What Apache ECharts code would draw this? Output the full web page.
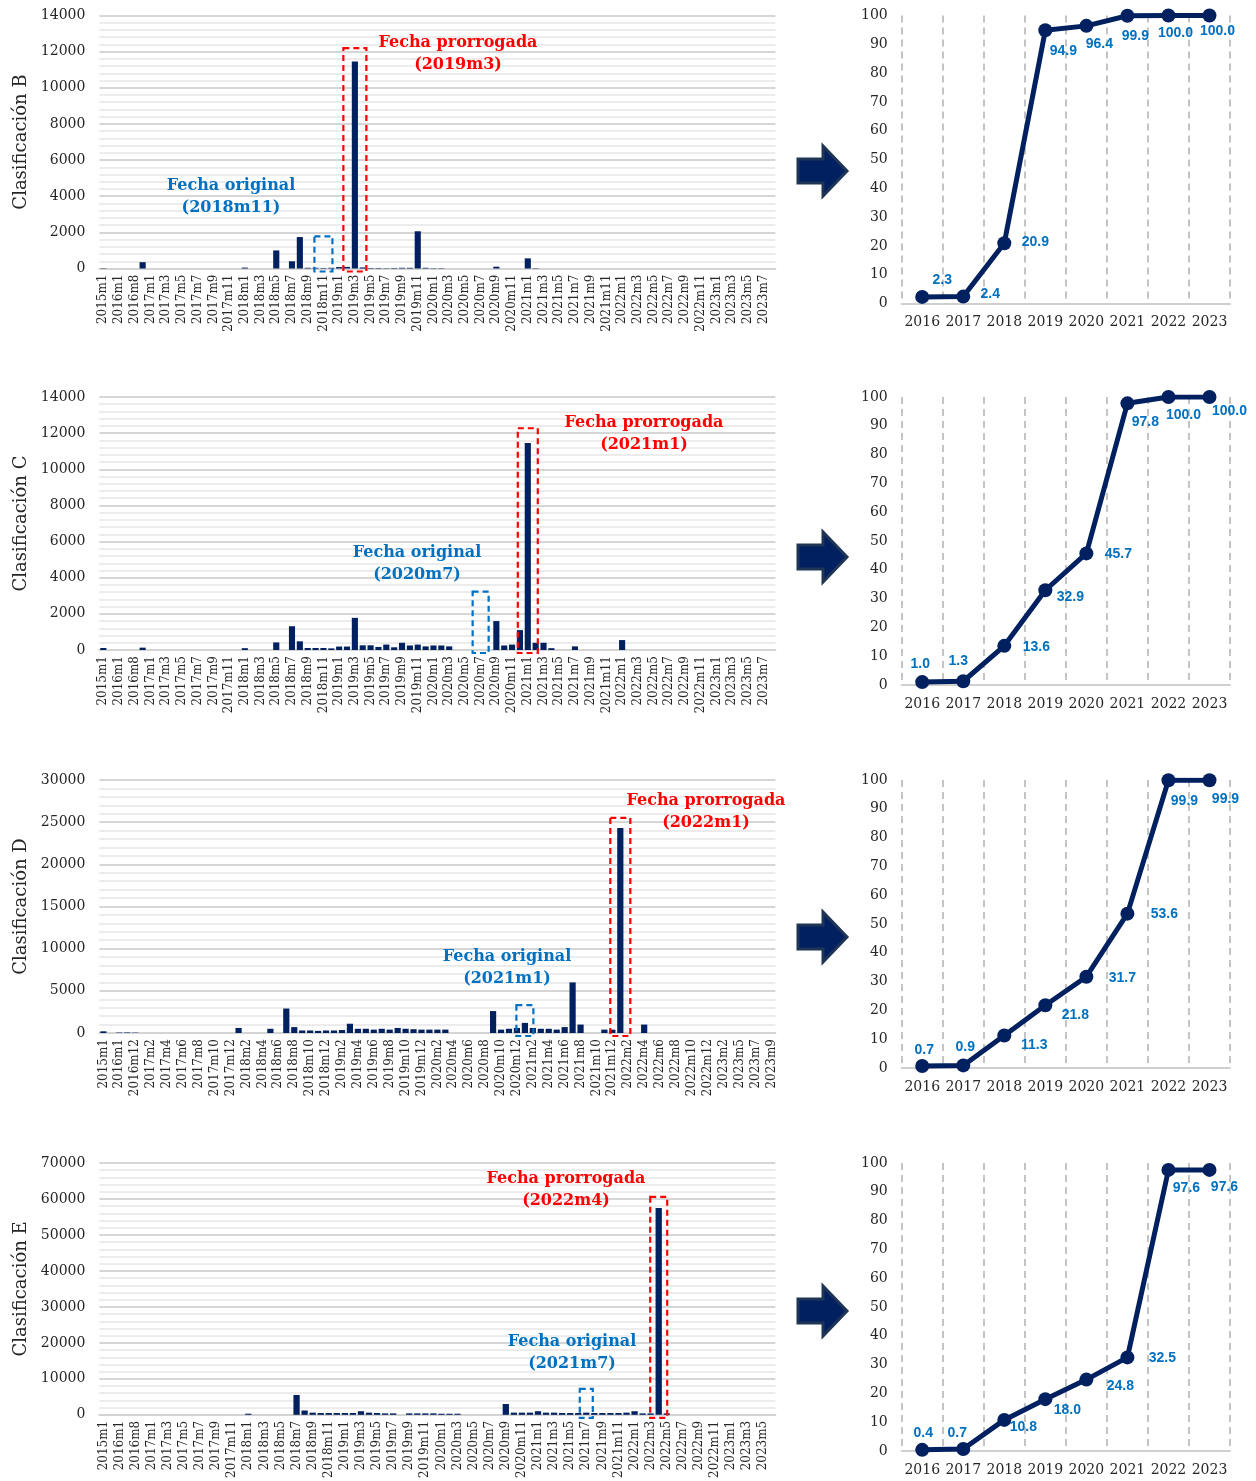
<!DOCTYPE html>
<html>
<head>
<meta charset="utf-8">
<script src="https://cdn.jsdelivr.net/npm/echarts@6/dist/echarts.min.js"></script>
<style>
  html, body { margin: 0; padding: 0; background: #ffffff; }
  #chart { width: 1256px; height: 1481px; }
</style>
</head>
<body>
<div id="chart"></div>
<script>
// ---- Monthly categories for each classification ----
const catsB = [
  '2015m1','2015m7','2016m1','2016m5','2016m8','2016m12',
  '2017m1','2017m2','2017m3','2017m4','2017m5','2017m6','2017m7','2017m8','2017m9','2017m10','2017m11','2017m12',
  '2018m1','2018m2','2018m3','2018m4','2018m5','2018m6','2018m7','2018m8','2018m9','2018m10','2018m11','2018m12',
  '2019m1','2019m2','2019m3','2019m4','2019m5','2019m6','2019m7','2019m8','2019m9','2019m10','2019m11','2019m12',
  '2020m1','2020m2','2020m3','2020m4','2020m5','2020m6','2020m7','2020m8','2020m9','2020m10','2020m11','2020m12',
  '2021m1','2021m2','2021m3','2021m4','2021m5','2021m6','2021m7','2021m8','2021m9','2021m10','2021m11','2021m12',
  '2022m1','2022m2','2022m3','2022m4','2022m5','2022m6','2022m7','2022m8','2022m9','2022m10','2022m11','2022m12',
  '2023m1','2023m2','2023m3','2023m4','2023m5','2023m6','2023m7','2023m8'
];
const catsC = [
  '2015m1','2015m7','2016m1','2016m5','2016m8','2016m12',
  '2017m1','2017m2','2017m3','2017m4','2017m5','2017m6','2017m7','2017m8','2017m9','2017m10','2017m11','2017m12',
  '2018m1','2018m2','2018m3','2018m4','2018m5','2018m6','2018m7','2018m8','2018m9','2018m10','2018m11','2018m12',
  '2019m1','2019m2','2019m3','2019m4','2019m5','2019m6','2019m7','2019m8','2019m9','2019m10','2019m11','2019m12',
  '2020m1','2020m2','2020m3','2020m4','2020m5','2020m6','2020m7','2020m8','2020m9','2020m10','2020m11','2020m12',
  '2021m1','2021m2','2021m3','2021m4','2021m5','2021m6','2021m7','2021m8','2021m9','2021m10','2021m11','2021m12',
  '2022m1','2022m2','2022m3','2022m4','2022m5','2022m6','2022m7','2022m8','2022m9','2022m10','2022m11','2022m12',
  '2023m1','2023m2','2023m3','2023m4','2023m5','2023m6','2023m7','2023m8'
];
const catsD = [
  '2015m1','2015m7','2016m1','2016m8','2016m12',
  '2017m1','2017m2','2017m3','2017m4','2017m5','2017m6','2017m7','2017m8','2017m9','2017m10','2017m11','2017m12',
  '2018m1','2018m2','2018m3','2018m4','2018m5','2018m6','2018m7','2018m8','2018m9','2018m10','2018m11','2018m12',
  '2019m1','2019m2','2019m3','2019m4','2019m5','2019m6','2019m7','2019m8','2019m9','2019m10','2019m11','2019m12',
  '2020m1','2020m2','2020m3','2020m4','2020m5','2020m6','2020m7','2020m8','2020m9','2020m10','2020m11','2020m12',
  '2021m1','2021m2','2021m3','2021m4','2021m5','2021m6','2021m7','2021m8','2021m9','2021m10','2021m11','2021m12',
  '2022m1','2022m2','2022m3','2022m4','2022m5','2022m6','2022m7','2022m8','2022m9','2022m10','2022m11','2022m12',
  '2023m1','2023m2','2023m4','2023m5','2023m6','2023m7','2023m8','2023m9'
];
const catsE = [
  '2015m1','2015m7','2016m1','2016m5','2016m8','2016m12',
  '2017m1','2017m2','2017m3','2017m4','2017m5','2017m6','2017m7','2017m8','2017m9','2017m10','2017m11','2017m12',
  '2018m1','2018m2','2018m3','2018m4','2018m5','2018m6','2018m7','2018m8','2018m9','2018m10','2018m11','2018m12',
  '2019m1','2019m2','2019m3','2019m4','2019m5','2019m6','2019m7','2019m8','2019m9','2019m10','2019m11','2019m12',
  '2020m1','2020m2','2020m3','2020m4','2020m5','2020m6','2020m7','2020m8','2020m9','2020m10','2020m11','2020m12',
  '2021m1','2021m2','2021m3','2021m4','2021m5','2021m6','2021m7','2021m8','2021m9','2021m10','2021m11','2021m12',
  '2022m1','2022m2','2022m3','2022m4','2022m5','2022m6','2022m7','2022m8','2022m9','2022m10','2022m11','2022m12',
  '2023m1','2023m2','2023m3','2023m4','2023m5','2023m6'
];

// ---- Monthly counts (one row per year) ----
const countsB = [
  20, 0, 0, 0, 0, 350,
  0, 0, 0, 0, 0, 0, 0, 0, 0, 0, 0, 0,
  50, 0, 0, 0, 1000, 0, 400, 1740, 40, 40, 30, 40,
  80, 90, 11450, 60, 30, 30, 20, 30, 40, 40, 2060, 40,
  20, 20, 0, 0, 0, 0, 0, 0, 100, 0, 0, 0,
  560, 20, 0, 0, 0, 0, 0, 0, 0, 0, 0, 0,
  0, 0, 0, 0, 0, 0, 0, 0, 0, 0, 0, 0,
  0, 0, 0, 0, 0, 0, 0, 0
];
const countsC = [
  110, 0, 0, 0, 0, 130,
  0, 0, 0, 0, 0, 0, 0, 0, 0, 0, 0, 0,
  100, 0, 0, 0, 420, 0, 1315, 480, 110, 110, 110, 90,
  190, 190, 1780, 260, 260, 170, 300, 150, 400, 250, 300, 200,
  250, 250, 200, 0, 0, 0, 0, 0, 1600, 250, 300, 1100,
  11450, 400, 400, 100, 0, 0, 200, 0, 0, 0, 0, 0,
  550, 0, 0, 0, 0, 0, 0, 0, 0, 0, 0, 0,
  0, 0, 0, 0, 0, 0, 0, 0
];
const countsD = [
  200, 0, 50, 60, 40,
  0, 0, 0, 0, 0, 0, 0, 0, 0, 0, 0, 0,
  600, 0, 0, 0, 500, 0, 2900, 700, 300, 300, 250, 300,
  300, 350, 1100, 500, 500, 400, 500, 400, 600, 500, 450, 400,
  400, 400, 400, 0, 0, 0, 0, 0, 2600, 400, 500, 600,
  1200, 600, 500, 500, 400, 700, 6000, 1000, 0, 0, 400, 400,
  24300, 0, 0, 1000, 0, 0, 0, 0, 0, 0, 0, 0,
  0, 0, 0, 0, 0, 0, 0, 0
];
const countsE = [
  0, 0, 0, 0, 0, 0,
  0, 0, 0, 0, 0, 0, 0, 0, 0, 0, 0, 0,
  300, 0, 0, 0, 0, 0, 5500, 1200, 600, 500, 500, 500,
  500, 500, 1000, 600, 500, 400, 400, 0, 400, 400, 400, 400,
  300, 300, 300, 0, 0, 0, 0, 0, 3000, 600, 600, 600,
  1000, 600, 600, 500, 500, 500, 600, 500, 500, 500, 500, 600,
  1000, 400, 400, 57500, 400, 0, 0, 0, 0, 0, 0, 0,
  0, 0, 0, 0, 0, 0
];

// ---- Yearly cumulative share (%) ----
const years = ['2016','2017','2018','2019','2020','2021','2022','2023'];
const shareB = [2.3, 2.4, 20.9, 94.9, 96.4, 99.9, 100.0, 100.0];
const shareC = [1.0, 1.3, 13.6, 32.9, 45.7, 97.8, 100.0, 100.0];
const shareD = [0.7, 0.9, 11.3, 21.8, 31.7, 53.6, 99.9, 99.9];
const shareE = [0.4, 0.7, 10.8, 18.0, 24.8, 32.5, 97.6, 97.6];

// ---- Value-axis tick settings ----
const axisMax = [14000, 14000, 30000, 70000];
const axisStep = [2000, 2000, 5000, 10000];

// ---- Deadline markers: original and extended month ----
const originalMonth = ['2018m11', '2020m7', '2021m1', '2021m7'];
const extendedMonth = ['2019m3', '2021m1', '2022m1', '2022m4'];

// ---- Layout / styling ----
const NAVY = '#002060';
const BLUE = '#0070C0';
const RED = '#FF0000';
const SERIF = '"DejaVu Serif", "Liberation Serif", serif';
const SANS = '"Liberation Sans", "Open Sans", sans-serif';
const rowTop = [15.5, 397, 780, 1163];
const barGrid = { left: 99.4, width: 676, height: 253 };
const lineGrid = { left: 901.7, width: 328.3, height: 288 };

// label placement offsets (px) for the yearly share labels
const labelOffsets = [
  [[20,-17],[27,-2],[31,-1],[18,21],[13,18],[8,20],[7,18],[8,16]],
  [[-2,-18],[-5,-20],[32,1],[25,7],[32,1],[18,19],[15,18],[20,14]],
  [[2,-16],[2,-18],[30,10],[30,10],[36,1],[37,1],[16,21],[16,19]],
  [[1,-17],[-6,-16],[19,7],[22,11],[34,7],[35,1],[18,18],[15,17]]
];
// top of the dashed boxes, in axis units
const extBoxTop = [12200, 12270, 25500, 60600];
const origBoxTop = [1780, 3230, 3300, 7200];
const extBoxHalf = [11.5, 10, 10, 8.5];
const origBoxHalf = [9, 8, 8.5, 6.5];
// caption anchors [x, y]
const extTextPos = [[458, 43], [644, 423], [706, 801], [566, 1179]];
const origTextPos = [[231, 186], [417, 553], [507, 957], [572, 1342]];

const names = ['Clasificación B', 'Clasificación C', 'Clasificación D', 'Clasificación E'];
const cats = [catsB, catsC, catsD, catsE];
const counts = [countsB, countsC, countsD, countsE];
const shares = [shareB, shareC, shareD, shareE];

const grids = [], xAxes = [], yAxes = [], series = [];

for (let i = 0; i < 4; i++) {
  grids.push({ left: barGrid.left, top: rowTop[i], width: barGrid.width, height: barGrid.height });
  xAxes.push({
    type: 'category', gridIndex: i, data: cats[i],
    axisTick: { show: false },
    axisLine: { lineStyle: { color: '#d4d4d4', width: 2 } },
    axisLabel: { rotate: 90, interval: 1, fontFamily: SERIF, fontSize: 12, color: '#262626', margin: 6 }
  });
  yAxes.push({
    type: 'value', gridIndex: i, min: 0, max: axisMax[i], interval: axisStep[i],
    name: names[i], nameLocation: 'middle', nameGap: 68, nameRotate: 90,
    nameTextStyle: { fontFamily: SERIF, fontSize: 18, color: '#262626' },
    axisLine: { show: false }, axisTick: { show: false },
    axisLabel: { fontFamily: SERIF, fontSize: 14, color: '#262626', margin: 14, formatter: v => String(v) },
    splitLine: { lineStyle: { color: '#d6d6d6', width: 2 } },
    minorTick: { show: false, splitNumber: 5 },
    minorSplitLine: { show: true, lineStyle: { color: '#ececec', width: 2 } }
  });
  series.push({
    type: 'bar', xAxisIndex: i, yAxisIndex: i, data: counts[i],
    barCategoryGap: '22%', itemStyle: { color: NAVY }, silent: true
  });
}

for (let i = 0; i < 4; i++) {
  const gi = 4 + i;
  grids.push({ left: lineGrid.left, top: rowTop[i], width: lineGrid.width, height: lineGrid.height });
  xAxes.push({
    type: 'category', gridIndex: gi, data: years, boundaryGap: true,
    axisTick: { show: false },
    axisLine: { lineStyle: { color: '#cfcfcf', width: 2 } },
    axisLabel: { interval: 0, fontFamily: SERIF, fontSize: 14, color: '#262626', margin: 12 },
    splitLine: { show: true, interval: 0, lineStyle: { color: '#c4c4c4', width: 2, type: [7, 5] } }
  });
  yAxes.push({
    type: 'value', gridIndex: gi, min: 0, max: 100, interval: 10,
    axisLine: { show: false }, axisTick: { show: false },
    axisLabel: { fontFamily: SERIF, fontSize: 14, color: '#262626', margin: 14 },
    splitLine: { show: false }
  });
  series.push({
    type: 'line', xAxisIndex: gi, yAxisIndex: gi,
    data: shares[i].map((v, k) => ({
      value: v,
      label: { position: 'inside', offset: labelOffsets[i][k] }
    })),
    lineStyle: { color: NAVY, width: 5 },
    itemStyle: { color: NAVY },
    symbol: 'circle', symbolSize: 14, silent: true,
    label: {
      show: true, color: BLUE, fontFamily: SANS, fontWeight: 'bold', fontSize: 14,
      formatter: p => p.value.toFixed(1)
    },
    z: 3
  });
}

const chart = echarts.init(document.getElementById('chart'), null, { renderer: 'canvas' });
chart.setOption({
  animation: false,
  backgroundColor: '#ffffff',
  grid: grids, xAxis: xAxes, yAxis: yAxes, series: series
});

// ---- Overlays: dashed boxes, captions and arrows ----
const overlay = [];
function dashedBox(i, cat, topVal, half, color) {
  const a = chart.convertToPixel({ xAxisIndex: i, yAxisIndex: i }, [cat, topVal]);
  const b = chart.convertToPixel({ xAxisIndex: i, yAxisIndex: i }, [cat, 0]);
  return {
    type: 'rect', z: 10, silent: true,
    shape: { x: a[0] - half, y: a[1], width: half * 2, height: b[1] - a[1] + 3 },
    style: { fill: 'none', stroke: color, lineWidth: 2.2, lineDash: [6, 4] }
  };
}
function caption(pos, lines, color) {
  return lines.map((t, k) => ({
    type: 'text', z: 10, silent: true,
    style: {
      text: t, x: pos[0], y: pos[1] + k * 22, fill: color,
      font: 'bold 16px ' + SERIF, align: 'center', verticalAlign: 'middle'
    }
  }));
}
function arrow(cy) {
  return {
    type: 'polygon', z: 10, silent: true,
    shape: { points: [[798, cy - 12], [823, cy - 12], [823, cy - 25], [847, cy], [823, cy + 25], [823, cy + 12], [798, cy + 12]] },
    style: { fill: NAVY, stroke: '#1f3556', lineWidth: 3 }
  };
}
const arrowY = [171, 557, 937, 1311];
for (let i = 0; i < 4; i++) {
  overlay.push(dashedBox(i, extendedMonth[i], extBoxTop[i], extBoxHalf[i], RED));
  overlay.push(dashedBox(i, originalMonth[i], origBoxTop[i], origBoxHalf[i], BLUE));
  overlay.push(...caption(extTextPos[i], ['Fecha prorrogada', '(' + extendedMonth[i] + ')'], RED));
  overlay.push(...caption(origTextPos[i], ['Fecha original', '(' + originalMonth[i] + ')'], BLUE));
  overlay.push(arrow(arrowY[i]));
}
chart.setOption({ graphic: overlay });
</script>
</body>
</html>
